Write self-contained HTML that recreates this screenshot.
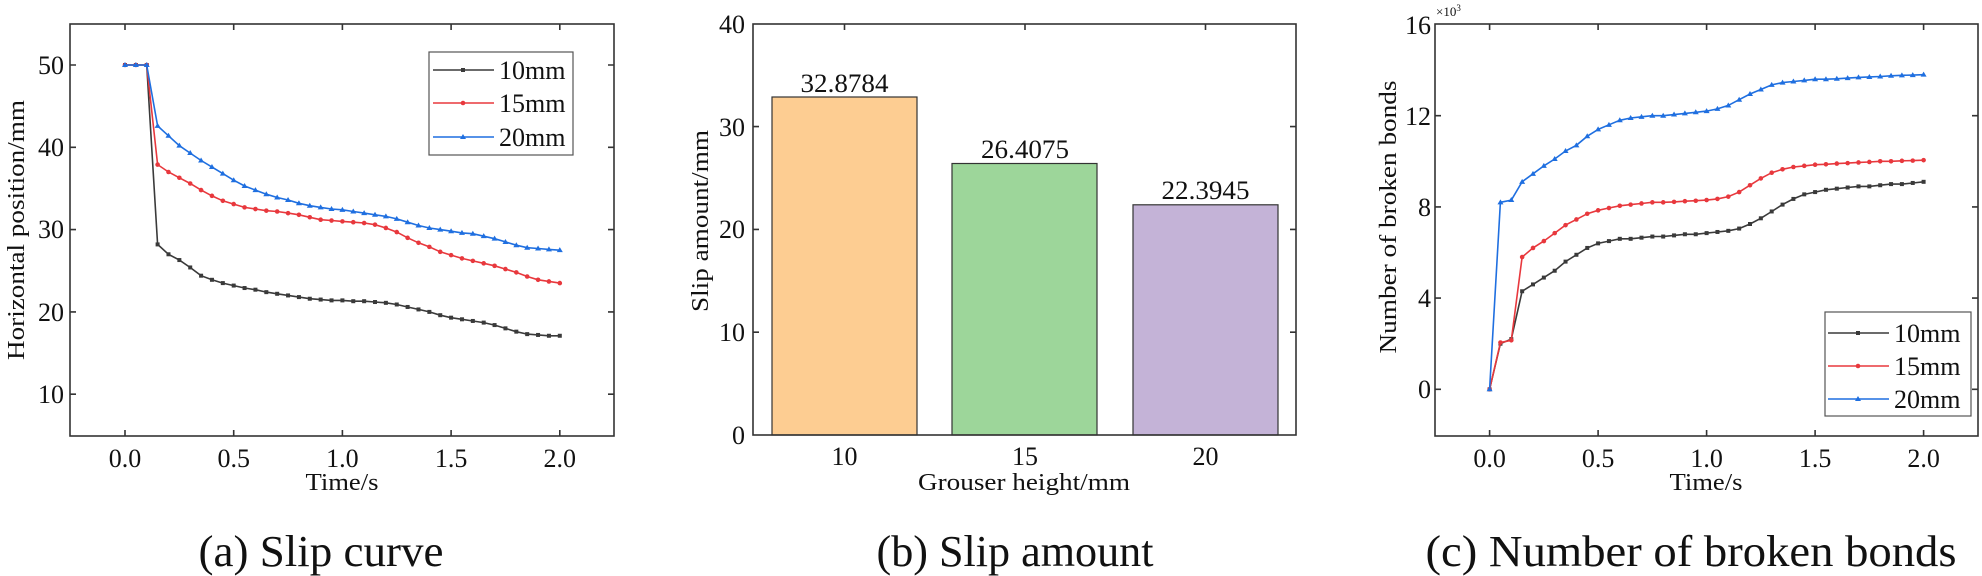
<!DOCTYPE html>
<html><head><meta charset="utf-8"><style>
html,body{margin:0;padding:0;background:#fff;}
svg{display:block;font-family:"Liberation Serif",serif;}
</style></head><body>
<svg id="s" width="1982" height="576" viewBox="0 0 1982 576" xmlns="http://www.w3.org/2000/svg">
<rect width="1982" height="576" fill="#fff"/>
<g id="ga"></g><g id="gc"></g>

<!-- Panel A axes -->
<g stroke="#333" stroke-width="1.6" fill="none">
<rect x="70" y="24" width="544" height="412"/>
<path d="M125,436v-6M233.7,436v-6M342.4,436v-6M451.1,436v-6M559.8,436v-6M125,24v6M233.7,24v6M342.4,24v6M451.1,24v6M559.8,24v6M70,65h6M70,147.3h6M70,229.6h6M70,311.9h6M70,394.2h6M614,65h-6M614,147.3h-6M614,229.6h-6M614,311.9h-6M614,394.2h-6"/>
</g>
<g font-size="26" fill="#111" text-anchor="end">
<text x="64" y="74">50</text><text x="64" y="156">40</text><text x="64" y="238">30</text><text x="64" y="321">20</text><text x="64" y="403">10</text>
</g>
<g font-size="26" fill="#111" text-anchor="middle">
<text x="125" y="467">0.0</text><text x="233.7" y="467">0.5</text><text x="342.4" y="467">1.0</text><text x="451.1" y="467">1.5</text><text x="559.8" y="467">2.0</text>
<text x="342" y="490" font-size="24" textLength="73" lengthAdjust="spacingAndGlyphs">Time/s</text>
<text transform="translate(24,230) rotate(-90)" font-size="24" textLength="260" lengthAdjust="spacingAndGlyphs">Horizontal position/mm</text>
<text x="321" y="566" font-size="44" textLength="245" lengthAdjust="spacingAndGlyphs">(a)  Slip curve</text>
</g>
<!-- legend A -->
<rect x="429" y="52" width="144" height="103" fill="#fff" stroke="#555" stroke-width="1.2"/>
<g stroke-width="1.6">
<line x1="433" y1="70" x2="494" y2="70" stroke="#3a3a3a"/><rect x="461" y="68" width="4" height="4" fill="#3a3a3a"/>
<line x1="433" y1="103" x2="494" y2="103" stroke="#e8383d"/><circle cx="463" cy="103" r="2.3" fill="#e8383d"/>
<line x1="433" y1="137" x2="494" y2="137" stroke="#1f6fe0"/><path d="M463,134l3,5h-6z" fill="#1f6fe0"/>
</g>
<g font-size="26" fill="#111">
<text x="499" y="79">10mm</text><text x="499" y="112">15mm</text><text x="499" y="146">20mm</text>
</g>

<!-- Panel B -->
<g stroke="#333" stroke-width="1.2">
<rect x="772" y="97" width="145" height="338" fill="#fdcd92"/>
<rect x="952" y="163.5" width="145" height="271.5" fill="#9dd69a"/>
<rect x="1133" y="204.8" width="145" height="230.2" fill="#c4b3d7"/>
</g>
<g stroke="#333" stroke-width="1.6" fill="none">
<rect x="753" y="24" width="543" height="411"/>
<path d="M753,332.2h6M753,229.4h6M753,126.6h6M1296,332.2h-6M1296,229.4h-6M1296,126.6h-6M844.5,24v6M1025,24v6M1205.5,24v6"/>
</g>
<g font-size="26" fill="#111" text-anchor="end">
<text x="745" y="444">0</text><text x="745" y="341">10</text><text x="745" y="238">20</text><text x="745" y="136">30</text><text x="745" y="33">40</text>
</g>
<g font-size="26" fill="#111" text-anchor="middle">
<text x="844.5" y="465">10</text><text x="1025" y="465">15</text><text x="1205.5" y="465">20</text>
<text x="844.5" y="92" textLength="88" lengthAdjust="spacingAndGlyphs">32.8784</text>
<text x="1025" y="158" textLength="88" lengthAdjust="spacingAndGlyphs">26.4075</text>
<text x="1205.5" y="199" textLength="88" lengthAdjust="spacingAndGlyphs">22.3945</text>
<text x="1024" y="490" font-size="24" textLength="212" lengthAdjust="spacingAndGlyphs">Grouser height/mm</text>
<text transform="translate(708,221) rotate(-90)" font-size="24" textLength="182" lengthAdjust="spacingAndGlyphs">Slip amount/mm</text>
<text x="1015" y="566" font-size="44" textLength="277" lengthAdjust="spacingAndGlyphs">(b)  Slip amount</text>
</g>

<!-- Panel C axes -->
<g stroke="#333" stroke-width="1.6" fill="none">
<rect x="1435" y="24" width="543" height="412"/>
<path d="M1489.6,436v-6M1598.1,436v-6M1706.6,436v-6M1815.1,436v-6M1923.6,436v-6M1489.6,24v6M1598.1,24v6M1706.6,24v6M1815.1,24v6M1923.6,24v6M1435,389.3h6M1435,298.1h6M1435,206.9h6M1435,115.7h6M1978,389.3h-6M1978,298.1h-6M1978,206.9h-6M1978,115.7h-6"/>
</g>
<g font-size="26" fill="#111" text-anchor="end">
<text x="1431" y="398">0</text><text x="1431" y="307">4</text><text x="1431" y="216">8</text><text x="1431" y="125">12</text><text x="1431" y="34">16</text>
</g>
<text x="1436" y="16" font-size="13" fill="#111">×10<tspan font-size="9" dy="-5">3</tspan></text>
<g font-size="26" fill="#111" text-anchor="middle">
<text x="1489.6" y="467">0.0</text><text x="1598.1" y="467">0.5</text><text x="1706.6" y="467">1.0</text><text x="1815.1" y="467">1.5</text><text x="1923.6" y="467">2.0</text>
<text x="1706" y="490" font-size="24" textLength="73" lengthAdjust="spacingAndGlyphs">Time/s</text>
<text transform="translate(1396,217) rotate(-90)" font-size="24" textLength="273" lengthAdjust="spacingAndGlyphs">Number of broken bonds</text>
<text x="1691" y="566" font-size="44" textLength="531" lengthAdjust="spacingAndGlyphs">(c)  Number of broken bonds</text>
</g>
<!-- legend C -->
<rect x="1825" y="312" width="146" height="104" fill="#fff" stroke="#555" stroke-width="1.2"/>
<g stroke-width="1.6">
<line x1="1828" y1="333" x2="1889" y2="333" stroke="#3a3a3a"/><rect x="1856" y="331" width="4" height="4" fill="#3a3a3a"/>
<line x1="1828" y1="366" x2="1889" y2="366" stroke="#e8383d"/><circle cx="1858" cy="366" r="2.3" fill="#e8383d"/>
<line x1="1828" y1="399" x2="1889" y2="399" stroke="#1f6fe0"/><path d="M1858,396l3,5h-6z" fill="#1f6fe0"/>
</g>
<g font-size="26" fill="#111">
<text x="1894" y="342">10mm</text><text x="1894" y="375">15mm</text><text x="1894" y="408">20mm</text>
</g>
</svg>
<script>
(function(){
var NS="http://www.w3.org/2000/svg";
function draw(g,data,x0,dx,y0,ky,vref,color,mk){
  var pts=[];
  for(var i=0;i<data.length;i++){pts.push([x0+i*dx, y0-(data[i]-vref)*ky]);}
  var pl=document.createElementNS(NS,"polyline");
  pl.setAttribute("points",pts.map(function(p){return p[0].toFixed(1)+","+p[1].toFixed(1)}).join(" "));
  pl.setAttribute("fill","none");pl.setAttribute("stroke",color);pl.setAttribute("stroke-width","1.6");
  g.appendChild(pl);
  pts.forEach(function(p){
    var e;
    if(mk=="s"){e=document.createElementNS(NS,"rect");e.setAttribute("x",p[0]-2);e.setAttribute("y",p[1]-2);e.setAttribute("width",4);e.setAttribute("height",4);}
    else if(mk=="c"){e=document.createElementNS(NS,"circle");e.setAttribute("cx",p[0]);e.setAttribute("cy",p[1]);e.setAttribute("r",2.3);}
    else{e=document.createElementNS(NS,"path");e.setAttribute("d","M"+p[0]+","+(p[1]-3)+"l3,5h-6z");}
    e.setAttribute("fill",color);g.appendChild(e);
  });
}
var ga=document.getElementById("ga"),gc=document.getElementById("gc");
var a10=[50,50,50,28.2,27.0,26.3,25.4,24.4,23.9,23.5,23.2,22.9,22.7,22.4,22.2,22.0,21.8,21.6,21.5,21.4,21.4,21.3,21.3,21.2,21.1,20.9,20.6,20.3,20.0,19.6,19.3,19.1,18.9,18.7,18.4,18.0,17.6,17.3,17.2,17.1,17.1];
var a15=[50,50,50,37.9,37.0,36.3,35.6,34.8,34.1,33.5,33.1,32.7,32.5,32.3,32.2,32.0,31.8,31.5,31.2,31.1,31.0,30.9,30.8,30.6,30.2,29.7,29.0,28.4,27.9,27.3,26.9,26.5,26.2,25.9,25.6,25.2,24.8,24.3,23.9,23.7,23.5];
var a20=[50,50,50,42.6,41.4,40.2,39.3,38.4,37.6,36.8,36.0,35.3,34.8,34.3,33.9,33.6,33.2,32.9,32.7,32.5,32.4,32.2,32.0,31.8,31.6,31.3,30.9,30.5,30.2,30.0,29.8,29.6,29.5,29.2,28.9,28.5,28.1,27.8,27.7,27.6,27.5];
var c10=[0,2.0,2.2,4.3,4.6,4.9,5.2,5.6,5.9,6.2,6.4,6.5,6.6,6.6,6.65,6.7,6.7,6.75,6.8,6.8,6.85,6.9,6.95,7.05,7.25,7.5,7.8,8.1,8.35,8.55,8.65,8.75,8.8,8.85,8.9,8.9,8.95,9.0,9.0,9.05,9.1];
var c15=[0,2.05,2.15,5.8,6.2,6.5,6.85,7.2,7.45,7.7,7.85,7.95,8.05,8.1,8.15,8.2,8.2,8.22,8.25,8.27,8.3,8.35,8.45,8.65,8.95,9.25,9.5,9.65,9.75,9.8,9.85,9.87,9.9,9.92,9.95,9.97,10.0,10.0,10.02,10.03,10.05];
var c20=[0,8.2,8.3,9.1,9.45,9.8,10.1,10.45,10.7,11.1,11.4,11.6,11.8,11.9,11.95,12.0,12.0,12.05,12.1,12.15,12.2,12.3,12.45,12.7,12.95,13.15,13.35,13.45,13.5,13.55,13.6,13.6,13.62,13.65,13.68,13.7,13.72,13.75,13.77,13.78,13.8];
var dxa=434.8/40, dxc=434/40;
draw(ga,a10,125,dxa,65,8.23,50,"#3a3a3a","s");
draw(ga,a15,125,dxa,65,8.23,50,"#e8383d","c");
draw(ga,a20,125,dxa,65,8.23,50,"#1f6fe0","t");
draw(gc,c10,1489.6,dxc,389.3,22.8,0,"#3a3a3a","s");
draw(gc,c15,1489.6,dxc,389.3,22.8,0,"#e8383d","c");
draw(gc,c20,1489.6,dxc,389.3,22.8,0,"#1f6fe0","t");
})();
</script>
</body></html>
